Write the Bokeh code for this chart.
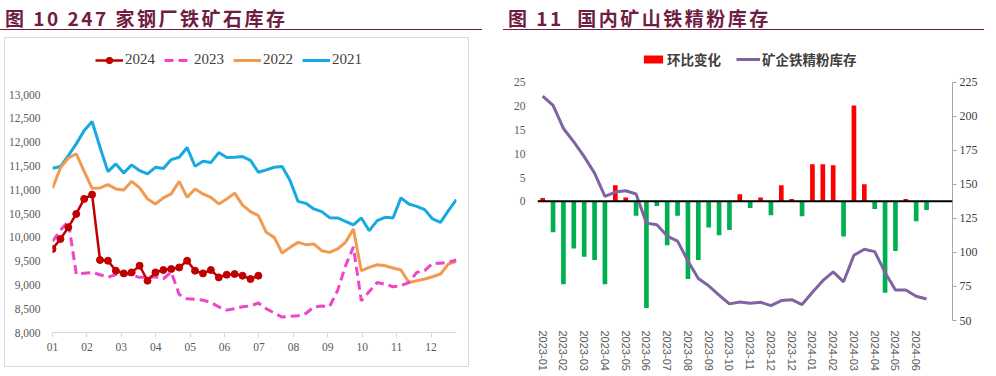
import math
from bokeh.plotting import figure
from bokeh.models import (Range1d, FixedTicker, NumeralTickFormatter, LinearAxis,
                          Legend, LegendItem, Span, Div, Spacer)
from bokeh.layouts import row, column
from bokeh.embed import file_html
from bokeh.resources import INLINE

# ---------------- Figure 10: 247 steel mills iron ore stocks (10k t), weekly ----------------
month_labels = ["01", "02", "03", "04", "05", "06", "07", "08", "09", "10", "11", "12"]

stock_2024 = [9756, 9966, 10211, 10493, 10809, 10900, 9525, 9510, 9299, 9243,
              9264, 9404, 9089, 9264, 9314, 9335, 9368, 9510, 9299, 9243,
              9314, 9159, 9215, 9230, 9194, 9124, 9194]

stock_2023 = [9916, 10150, 10340, 9230, 9248, 9262, 9215, 9160, 9220, 9245,
              9200, 9160, 9160, 9173, 9130, 9270, 8800, 8710, 8700, 8680,
              8630, 8540, 8470, 8500, 8541, 8560, 8620, 8500, 8410, 8325,
              8340, 8352, 8400, 8535, 8555, 8550, 8880, 9400, 9800, 8668,
              8860, 9050, 9015, 8963, 8984, 9050, 9264, 9300, 9454, 9454,
              9475, 9525]

stock_2022 = [11032, 11461, 11670, 11756, 11390, 11032, 11040, 11110, 11019, 10998,
              11179, 11040, 10809, 10703, 10830, 10914, 11179, 10843, 11019, 10914,
              10843, 10703, 10809, 10930, 10680, 10541, 10457, 10106, 10000, 9672,
              9790, 9895, 9847, 9861, 9720, 9685, 9756, 9895, 10177, 9299,
              9368, 9425, 9404, 9356, 9314, 9053, 9089, 9124, 9173, 9230,
              9440, 9495]

stock_2021 = [11453, 11489, 11720, 11966, 12246, 12436, 11895, 11383, 11545, 11356,
              11524, 11404, 11335, 11474, 11447, 11636, 11684, 11889, 11495, 11600,
              11573, 11783, 11678, 11684, 11699, 11620, 11369, 11419, 11474, 11489,
              11194, 10758, 10716, 10598, 10541, 10415, 10408, 10337, 10261, 10408,
              10141, 10352, 10421, 10408, 10830, 10703, 10653, 10584, 10387, 10316,
              10562, 10794]

# ---------------- Figure 11: domestic iron concentrate stocks, bi-weekly ----------------
date_labels = ["2023-01", "2023-02", "2023-03", "2023-04", "2023-05", "2023-06",
               "2023-07", "2023-08", "2023-09", "2023-10", "2023-11", "2023-12",
               "2023-12", "2024-01", "2024-02", "2024-03", "2024-04", "2024-05",
               "2024-06"]

mom_change = [0.7, -6.5, -17.4, -9.9, -11.6, -12.3, -17.4, 3.4, 0.8, -3.0,
              -22.4, -1.0, -9.2, -3.0, -16.3, -12.3, -5.5, -7.1, -6.0, 1.5,
              -1.4, 0.8, -2.9, 3.4, 0.5, -3.1, 7.8, 7.8, 7.6, -7.4,
              20.1, 3.6, -1.6, -19.2, -10.4, 0.5, -4.2, -1.8]

concentrate_stock = [214.7, 207.9, 191.0, 181.2, 170.3, 158.2, 141.1, 144.3, 145.3, 142.9,
                     121.5, 120.3, 112.0, 108.3, 93.7, 80.9, 75.5, 68.7, 62.2, 63.6,
                     62.7, 63.4, 60.9, 64.6, 65.3, 61.7, 70.7, 79.2, 85.7, 78.4,
                     97.9, 102.3, 100.6, 85.3, 72.4, 72.4, 67.8, 65.8]

MAROON = "#6F1D42"
NARROW = "Liberation Sans Narrow"


def week_x(n):
    # week i of the year expressed in month units (month 1 = start of January)
    return [1 + i * 7 / 30.42 for i in range(n)]


# ---------------- Left figure ----------------
# frame extends above the 13,000 tick so that the legend sits inside it
p1 = figure(width=463, height=328, x_range=Range1d(1, 12.74), y_range=Range1d(8000, 14140),
            output_backend="svg", toolbar_location=None,
            min_border_left=46, min_border_right=12, min_border_top=2, min_border_bottom=34)
p1.grid.visible = False
p1.outline_line_color = None
p1.styles = {"box-shadow": "0 0 0 1px #D9D9D9"}

r21 = p1.line(week_x(len(stock_2021)), stock_2021, line_color="#17A9E1", line_width=3)
r22 = p1.line(week_x(len(stock_2022)), stock_2022, line_color="#F29A50", line_width=3)
r23 = p1.line(week_x(len(stock_2023)), stock_2023, line_color="#EF45C9", line_width=3,
              line_dash="9 5")
r24l = p1.line(week_x(len(stock_2024)), stock_2024, line_color="#C00000", line_width=2.5)
r24c = p1.scatter(week_x(len(stock_2024)), stock_2024, size=7, marker="circle",
                  fill_color="#C00000", line_color="#C00000")

xa = p1.xaxis[0]
xa.ticker = FixedTicker(ticks=list(range(1, 13)))
xa.major_label_overrides = {i + 1: lab for i, lab in enumerate(month_labels)}
xa.axis_line_color = "#D9D9D9"
xa.major_tick_line_color = "#D9D9D9"
xa.major_tick_out = 5
xa.major_tick_in = 0
xa.minor_tick_line_color = None
xa.major_label_text_font = NARROW
xa.major_label_text_font_size = "11.5px"
xa.major_label_text_color = "#595959"
xa.major_label_standoff = 5

ya = p1.yaxis[0]
ya.ticker = FixedTicker(ticks=list(range(8000, 13001, 500)))
ya.formatter = NumeralTickFormatter(format="0,0")
ya.axis_line_color = None
ya.major_tick_line_color = None
ya.major_tick_out = 0
ya.major_tick_in = 0
ya.minor_tick_line_color = None
ya.major_label_text_font = NARROW
ya.major_label_text_font_size = "11.5px"
ya.major_label_text_color = "#595959"
ya.major_label_standoff = 12

leg1 = Legend(items=[LegendItem(label="2024", renderers=[r24l, r24c]),
                     LegendItem(label="2023", renderers=[r23]),
                     LegendItem(label="2022", renderers=[r22]),
                     LegendItem(label="2021", renderers=[r21])],
              orientation="horizontal", location=(43, 264), padding=0, margin=0,
              spacing=9, glyph_width=28, glyph_height=16, label_height=16,
              label_standoff=2, label_text_font=NARROW, label_text_font_size="15px",
              label_text_color="#404040", border_line_color=None,
              background_fill_alpha=0)
p1.add_layout(leg1, "center")

# ---------------- Right figure ----------------
idx = list(range(len(mom_change)))
bar_colors = ["#FF0000" if v >= 0 else "#00B050" for v in mom_change]

p2 = figure(width=486, height=336, x_range=Range1d(-0.5, 39.5), y_range=Range1d(-25, 33.75),
            output_backend="svg", toolbar_location=None,
            min_border_left=34, min_border_right=37, min_border_top=2, min_border_bottom=54)
p2.extra_y_ranges = {"stock": Range1d(50, 255.6)}
p2.grid.visible = False
p2.outline_line_color = None

rb = p2.vbar(x=idx, top=mom_change, bottom=0, width=0.45, fill_color=bar_colors,
             line_color=None)
rl = p2.line(idx, concentrate_stock, y_range_name="stock", line_color="#8064A2",
             line_width=3)
p2.add_layout(Span(location=0, dimension="width", line_color="black", line_width=2))

xb = p2.xaxis[0]
xb.ticker = FixedTicker(ticks=[2 * j for j in range(len(date_labels))])
xb.major_label_overrides = {2 * j: lab for j, lab in enumerate(date_labels)}
xb.major_label_orientation = -math.pi / 2
xb.axis_line_color = None
xb.major_tick_line_color = None
xb.major_tick_out = 0
xb.minor_tick_line_color = None
xb.major_label_text_font = "Liberation Sans"
xb.major_label_text_font_size = "11px"
xb.major_label_text_color = "#595959"
xb.major_label_standoff = 10

yl = p2.yaxis[0]
yl.ticker = FixedTicker(ticks=[0, 5, 10, 15, 20, 25])
yl.axis_line_color = None
yl.major_tick_line_color = None
yl.major_tick_out = 0
yl.major_tick_in = 0
yl.minor_tick_line_color = None
yl.major_label_text_font = NARROW
yl.major_label_text_font_size = "11.5px"
yl.major_label_text_color = "#595959"
yl.major_label_standoff = 12

yneg = LinearAxis(fixed_location=-0.5, ticker=FixedTicker(ticks=[-25, -20, -15, -10, -5]),
                  axis_line_color=None, major_tick_line_color=None,
                  major_tick_out=0, major_tick_in=0,
                  minor_tick_line_color=None, major_label_text_font=NARROW,
                  major_label_text_font_size="11.5px", major_label_text_color="#E8262B",
                  major_label_standoff=12)
p2.add_layout(yneg, "left")

yr = LinearAxis(y_range_name="stock", ticker=FixedTicker(ticks=list(range(50, 226, 25))),
                bounds=(50, 225),
                axis_line_color="#A6A6A6", major_tick_line_color="#A6A6A6",
                major_tick_out=4, major_tick_in=0, minor_tick_line_color=None,
                major_label_text_font=NARROW, major_label_text_font_size="12px",
                major_label_text_color="#404040", major_label_standoff=3)
p2.add_layout(yr, "right")

leg2 = Legend(items=[LegendItem(label="环比变化", renderers=[rb], index=0),
                     LegendItem(label="矿企铁精粉库存", renderers=[rl])],
              orientation="horizontal", location=(104, 251), padding=0, margin=0,
              spacing=15, glyph_width=24, glyph_height=10, label_height=16,
              label_standoff=2, label_text_font="Noto Sans CJK SC",
              label_text_font_style="bold", label_text_font_size="13.5px",
              label_text_color="#404040", border_line_color=None,
              background_fill_alpha=0)
p2.add_layout(leg2, "center")

# ---------------- Titles and rules ----------------
title_style = ("font-family:'Noto Sans CJK SC';font-weight:bold;font-size:19px;"
               "letter-spacing:2.5px;color:%s;line-height:30px;height:30px;padding-top:3px;"
               "padding-left:5px;border-bottom:1px solid %s;white-space:nowrap;"
               % (MAROON, MAROON))
t1 = Div(text='<div style="%swidth:482px;">图 10 247 家钢厂铁矿石库存</div>' % title_style,
         width=487, height=38, margin=0)
b1 = Div(text='<div style="height:2px;width:486px;background:%s;"></div>' % MAROON,
         width=486, height=2, margin=0)
t2 = Div(text='<div style="%swidth:481px;">图 11&nbsp; 国内矿山铁精粉库存</div>' % title_style,
         width=486, height=38, margin=0)

left_col = column(t1, row(Spacer(width=5, height=328), p1, spacing=0),
                  Spacer(width=10, height=1), b1, spacing=0)
right_col = column(t2, p2, spacing=0)
layout = row(left_col, Spacer(width=16, height=10), right_col, spacing=0)

open("out.html", "w").write(file_html(layout, INLINE))
